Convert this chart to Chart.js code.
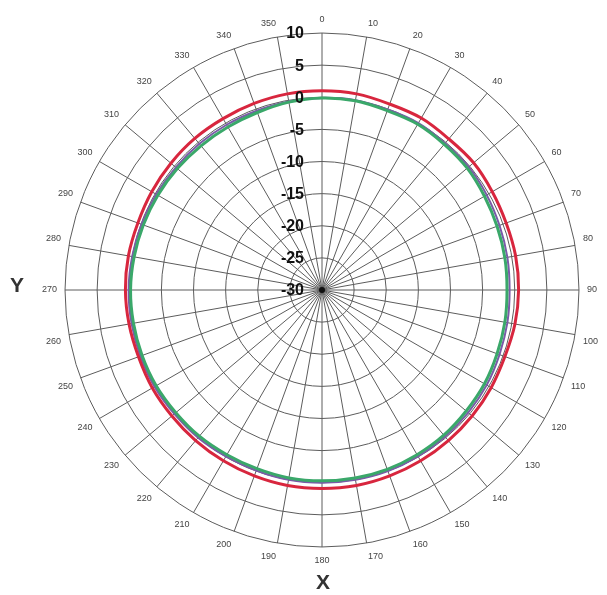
<!DOCTYPE html>
<html>
<head>
<meta charset="utf-8">
<title>Richtdiagramm</title>
<script src="https://cdn.jsdelivr.net/npm/chart.js@4.4.1/dist/chart.umd.min.js"></script>
<style>
  html, body { margin: 0; padding: 0; background: #fff; }
  #wrap { width: 607px; height: 595px; }
</style>
</head>
<body>
<div id="wrap"><canvas id="polarChart" width="607" height="595"></canvas></div>
<script>
// Winkel (Grad) rund um das Diagramm
const angles = ['0','10','20','30','40','50','60','70','80','90','100','110','120','130','140','150','160','170',
                '180','190','200','210','220','230','240','250','260','270','280','290','300','310','320','330','340','350'];

// Skalenbeschriftung (dB)
const radialTicks = [10, 5, 0, -5, -10, -15, -20, -25, -30];

// Messreihen (dB)
const redTrace = [1.0, 1.0, 0.8, 0.9, 0.7, 0.8, 0.6, 0.5, 0.6, 0.6, 0.5, 0.3, 0.4, 0.5, 0.6, 0.7, 0.8, 0.9,
                  0.9, 0.9, 0.8, 0.7, 0.6, 0.5, 0.5, 0.4, 0.5, 0.6, 0.6, 0.5, 0.6, 0.7, 0.8, 0.8, 0.9, 1.0];
const purpleTrace = [-0.1, 0.0, -0.1, 0.0, -0.2, -0.2, -0.4, -0.6, -0.7, -0.8, -0.7, -0.6, -0.4, -0.3, -0.2, -0.1, 0.0, 0.0,
                     0.0, 0.0, -0.1, -0.1, 0.0, 0.0, 0.1, 0.1, 0.1, 0.1, 0.0, -0.1, -0.2, -0.3, -0.3, -0.3, -0.3, -0.2];
const greenTrace = [-0.1, -0.1, -0.3, -0.2, -0.4, -0.5, -0.8, -1.0, -1.1, -1.2, -1.1, -1.0, -0.8, -0.7, -0.5, -0.4, -0.3, -0.3,
                    -0.3, -0.3, -0.4, -0.4, -0.3, -0.3, -0.2, -0.2, -0.2, -0.2, -0.3, -0.4, -0.5, -0.6, -0.7, -0.7, -0.6, -0.3];

// Eigene Beschriftung: dB-Werte links der 0°-Linie, Achsennamen X und Y
const labelPlugin = {
    id: 'labelPlugin',
    afterDraw(chart) {
        const ctx = chart.ctx;
        const scale = chart.scales.r;
        ctx.save();

        // kleiner Punkt in der Mitte
        ctx.fillStyle = '#111';
        ctx.beginPath();
        ctx.arc(scale.xCenter, scale.yCenter, 3, 0, Math.PI * 2);
        ctx.fill();

        ctx.font = 'bold 16px "Liberation Sans", Arial, sans-serif';
        ctx.fillStyle = '#111';
        ctx.textAlign = 'right';
        ctx.textBaseline = 'middle';
        radialTicks.forEach(v => {
            const d = scale.getDistanceFromCenterForValue(v);
            ctx.fillText(String(v), scale.xCenter - 18, scale.yCenter - d + 1);
        });

        ctx.font = 'bold 21px "Liberation Sans", Arial, sans-serif';
        ctx.fillStyle = '#333';
        ctx.textAlign = 'center';
        ctx.fillText('Y', 17, 286);
        ctx.fillText('X', scale.xCenter + 1, 583);
        ctx.restore();
    }
};

const ctx = document.getElementById('polarChart').getContext('2d');
const polarChart = new Chart(ctx, {
    type: 'radar',
    data: {
        labels: angles,
        datasets: [
            {
                label: 'Messung 2',
                data: purpleTrace,
                borderColor: '#7a5aa8',
                borderWidth: 2,
                pointRadius: 0,
                tension: 0.35,
                fill: false,
                order: 3
            },
            {
                label: 'Messung 3',
                data: greenTrace,
                borderColor: '#3aa86a',
                borderWidth: 3,
                pointRadius: 0,
                tension: 0.35,
                fill: false,
                order: 2
            },
            {
                label: 'Messung 1',
                data: redTrace,
                borderColor: '#d8263e',
                borderWidth: 3,
                pointRadius: 0,
                tension: 0.35,
                fill: false,
                order: 1
            }
        ]
    },
    options: {
        responsive: false,
        animation: false,
        layout: {
            padding: { top: 13, bottom: 27, left: 40, right: 6 }
        },
        plugins: {
            legend: { display: false },
            tooltip: { enabled: false }
        },
        scales: {
            r: {
                min: -30,
                max: 10,
                ticks: {
                    stepSize: 5,
                    display: false
                },
                grid: {
                    circular: true,
                    color: '#5c5c5c',
                    lineWidth: 1
                },
                angleLines: {
                    color: '#5c5c5c',
                    lineWidth: 1
                },
                pointLabels: {
                    color: '#444',
                    padding: 8,
                    font: { size: 9, family: 'Arial, "Liberation Sans", sans-serif' }
                }
            }
        }
    },
    plugins: [labelPlugin]
});
</script>
</body>
</html>
